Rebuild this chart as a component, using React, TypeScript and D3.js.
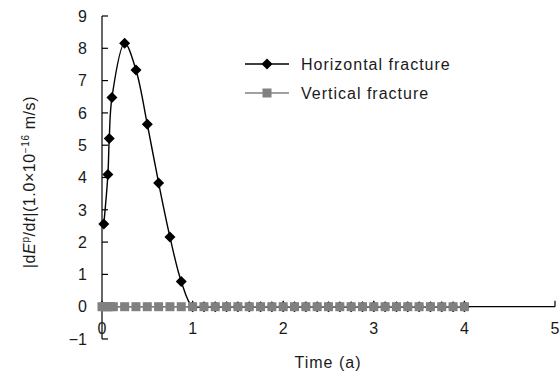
import React from "react";
import * as d3 from "d3";

const timeValues = [0.02, 0.065, 0.08, 0.11, 0.25, 0.375, 0.5, 0.625, 0.75, 0.875, 1.0,
  1.125, 1.25, 1.375, 1.5, 1.625, 1.75, 1.875, 2.0, 2.125, 2.25, 2.375, 2.5, 2.625, 2.75, 2.875,
  3.0, 3.125, 3.25, 3.375, 3.5, 3.625, 3.75, 3.875, 4.0];
const horizontalValues = [2.56, 4.09, 5.21, 6.48, 8.16, 7.33, 5.65, 3.83, 2.16, 0.78, 0,
  0, 0, 0, 0, 0, 0, 0, 0, 0, 0, 0, 0, 0, 0, 0, 0, 0, 0, 0, 0, 0, 0, 0, 0];
const verticalTimes = [0, 0.03, 0.06, 0.09, 0.125, 0.25, 0.375, 0.5, 0.625, 0.75, 0.875, 1.0,
  1.125, 1.25, 1.375, 1.5, 1.625, 1.75, 1.875, 2.0, 2.125, 2.25, 2.375, 2.5, 2.625, 2.75, 2.875,
  3.0, 3.125, 3.25, 3.375, 3.5, 3.625, 3.75, 3.875, 4.0];
const verticalValues = verticalTimes.map(() => 0);
const xTicks = [0, 1, 2, 3, 4, 5];
const yTicks = [-1, 0, 1, 2, 3, 4, 5, 6, 7, 8, 9];
const seriesNames = ["Horizontal fracture", "Vertical fracture"];

export default function App() {
  const W = 560, H = 377;
  const x = d3.scaleLinear().domain([0, 5]).range([102, 555]);
  const y = d3.scaleLinear().domain([-1, 9]).range([339, 16]);
  const font = "'Liberation Sans', Arial, sans-serif";
  const hPts: [number, number][] = timeValues.map((t, i) => [x(t), y(horizontalValues[i])]);
  const vPts: [number, number][] = verticalTimes.map((t, i) => [x(t), y(verticalValues[i])]);
  const line = d3.line().curve(d3.curveCatmullRom.alpha(0.5));
  const lineStraight = d3.line();
  const gray = "#808080";
  const txt = "#1a1a1a";
  const diamond = (cx: number, cy: number, r = 5.5) =>
    `M${cx},${cy - r}L${cx + r},${cy}L${cx},${cy + r}L${cx - r},${cy}Z`;
  return (
    <svg width={W} height={H} style={{ position: "absolute", left: 0, top: 0, background: "#fff" }}
      fontFamily={font}>
      {/* axes */}
      <line x1={x(0)} x2={x(0)} y1={y(9)} y2={y(-1)} stroke="#000" strokeWidth={1.2} />
      <line x1={x(0)} x2={x(5)} y1={y(0)} y2={y(0)} stroke="#000" strokeWidth={1.2} />
      {yTicks.map((t) => (
        <g key={"y" + t}>
          <line x1={x(0)} x2={x(0) + 6} y1={y(t)} y2={y(t)} stroke="#000" strokeWidth={1.2} />
          <text x={87} y={y(t)} dy="0.36em" textAnchor="end" fontSize={16} fill={txt}>
            {t < 0 ? "\u22121" : t}
          </text>
        </g>
      ))}
      {xTicks.map((t) => (
        <g key={"x" + t}>
          <line x1={x(t)} x2={x(t)} y1={y(0)} y2={y(0) - 6} stroke="#000" strokeWidth={1.2} />
          <text x={x(t)} y={334} textAnchor="middle" fontSize={16} fill={txt}>{t}</text>
        </g>
      ))}
      {/* series */}
      <path d={line(hPts) || ""} fill="none" stroke="#000" strokeWidth={1.4} />
      {hPts.map((p, i) => (
        <path key={"h" + i} d={diamond(p[0], p[1])} fill="#000" />
      ))}
      <path d={lineStraight(vPts) || ""} fill="none" stroke={gray} strokeWidth={1.6} />
      {vPts.map((p, i) => (
        <rect key={"v" + i} x={p[0] - 4.5} y={p[1] - 4.5} width={9} height={9} fill={gray} />
      ))}
      {/* legend */}
      <line x1={245} x2={289} y1={64} y2={64} stroke="#000" strokeWidth={1.5} />
      <path d={diamond(267, 64)} fill="#000" />
      <text x={301} y={64} dy="0.36em" fontSize={16} letterSpacing={1} fill={txt}>{seriesNames[0]}</text>
      <line x1={245} x2={289} y1={93} y2={93} stroke={gray} strokeWidth={1.6} />
      <rect x={262.5} y={88.5} width={9} height={9} fill={gray} />
      <text x={301} y={93} dy="0.36em" fontSize={16} letterSpacing={1} fill={txt}>{seriesNames[1]}</text>
      {/* axis titles */}
      <text x={328} y={368} textAnchor="middle" fontSize={16} letterSpacing={1} fill={txt}>Time (a)</text>
      <text transform="translate(35,182) rotate(-90)" textAnchor="middle" fontSize={16} letterSpacing={0.6} fill={txt}>
        |d<tspan fontStyle="italic">E</tspan>
        <tspan fontSize={10} dy={-6}>p</tspan>
        <tspan dy={6}>/d</tspan>
        <tspan fontStyle="italic">t</tspan>|(1.0×10
        <tspan fontSize={10} dy={-6}>−16</tspan>
        <tspan dy={6}> m/s)</tspan>
      </text>
    </svg>
  );
}
